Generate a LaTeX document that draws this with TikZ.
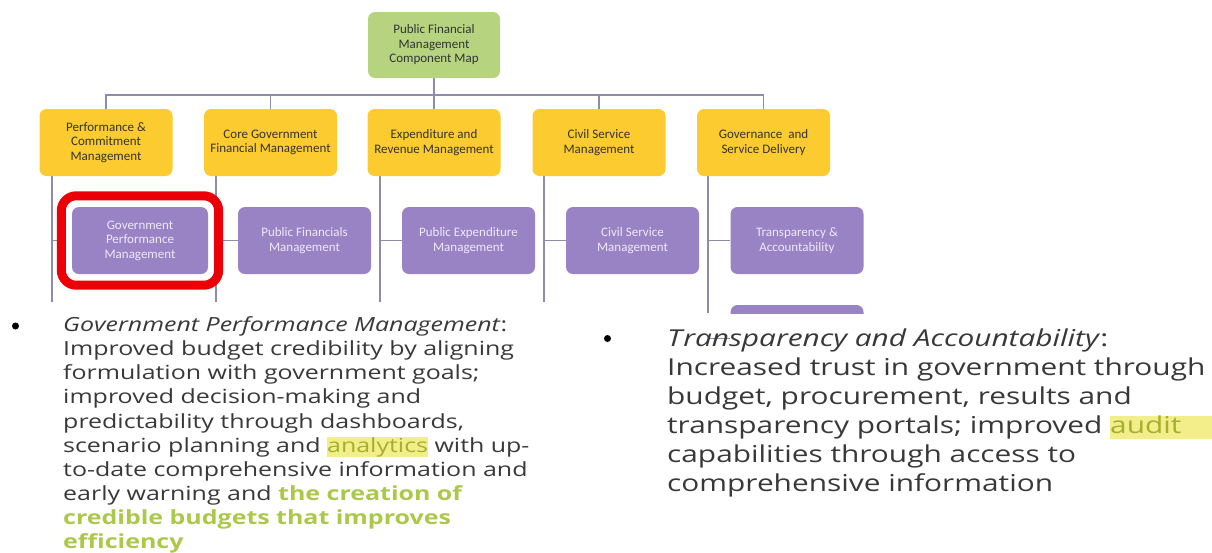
\documentclass[tikz,border=0pt]{standalone}
\usepackage{fontspec}
\usepackage{xcolor}
\usetikzlibrary{fit,backgrounds}
\newfontfamily\chartfont{Carlito}
\newfontfamily\osans[FakeStretch=1.28]{Open Sans}
\definecolor{gbox}{HTML}{B6D47F}
\definecolor{ybox}{HTML}{FCCB2F}
\definecolor{pbox}{HTML}{9A83C5}
\definecolor{ptext}{HTML}{EEE8F8}
\definecolor{lnc}{HTML}{8F8BA8}
\definecolor{redc}{HTML}{EC0008}
\definecolor{bodyc}{HTML}{383838}
\definecolor{hlbg}{HTML}{F3EE8A}
\definecolor{hltx}{HTML}{A2B12B}
\definecolor{boldg}{HTML}{ABC849}
\newcommand{\hlw}[2][0pt]{{\setlength{\fboxsep}{0pt}\colorbox{hlbg}{\rule[-0.22em]{0pt}{1.0em}\textcolor{hltx}{#2}\hspace{#1}}}}
\begin{document}
\begin{tikzpicture}[x=1pt,y=-1pt,
  chartbox/.style={rounded corners=7pt,inner sep=0pt,align=center,
    font=\chartfont\fontsize{13}{14.5}\selectfont},
  greenbox/.style={chartbox,fill=gbox,text=black!80,minimum width=132pt,minimum height=66pt},
  yellowbox/.style={chartbox,fill=ybox,text=black!80,minimum width=133pt,minimum height=67pt},
  purplebox/.style={chartbox,fill=pbox,text=ptext,minimum width=133pt,minimum height=67pt},
  conn/.style={draw=lnc,line width=1.8pt},
  redframe/.style={draw=redc,line width=9pt,rounded corners=15pt,fill=white,inner xsep=10.5pt,inner ysep=11pt},
  bodytext/.style={inner sep=0pt,align=left,text=bodyc},
  bullet/.style={circle,fill=black,inner sep=0pt,minimum size=7pt}
]
\useasboundingbox (0,0) rectangle (1212,552);

% top
\node[greenbox] (top) at (434,45) {Public Financial\\Management\\Component Map};
% second level
\node[yellowbox] (y1) at (106,142.5) {Performance \&\\Commitment\\Management};
\node[yellowbox] (y2) at (270.5,142.5) {Core Government\\Financial Management};
\node[yellowbox] (y3) at (434,142.5) {Expenditure and\\Revenue Management};
\node[yellowbox] (y4) at (599,142.5) {Civil Service\\Management};
\node[yellowbox] (y5) at (763.5,142.5) {Governance\ \ and\\Service Delivery};
% third level
\node[purplebox,minimum width=136pt] (p1) at (140,240.5) {Government\\Performance\\Management};
\node[purplebox] (p2) at (304.5,240.5) {Public Financials\\Management};
\node[purplebox] (p3) at (468.5,240.5) {Public Expenditure\\Management};
\node[purplebox] (p4) at (632.5,240.5) {Civil Service\\Management};
\node[purplebox] (p5) at (797,240.5) {Transparency \&\\Accountability};
\begin{scope}
  \clip (700,300) rectangle (900,313);
  \node[purplebox] (p6) at (797,338.5) {};
\end{scope}

\coordinate (bus) at (434,95);
\coordinate (e1) at (52,302);
\coordinate (e2) at (216,302);
\coordinate (e3) at (380,302);
\coordinate (e4) at (544,302);
\coordinate (e5) at (708,313);

\begin{pgfonlayer}{background}
  \draw[conn] (top.south) -- (bus);
  \draw[conn] (y1.north) |- (bus) -| (y5.north);
  \draw[conn] (y2.north) -- (y2.north |- bus);
  \draw[conn] (y3.north) -- (y3.north |- bus);
  \draw[conn] (y4.north) -- (y4.north |- bus);
  \foreach \i in {1,...,5}{
    \draw[conn] (y\i.south -| e\i) -- (e\i);
    \draw[conn] (e\i |- p\i.west) -- (p\i.west);
  }
  \draw[conn] (e5 |- p6.west) -- (p6.west);
  \node[redframe,fit=(p1)] (frame) {};
\end{pgfonlayer}

% bullet texts
\node[bullet] (b1) at (15.5,326) {};
\node[bodytext,anchor=north west,font=\osans\fontsize{19.5}{24.1}\selectfont] (t1) at (63,316.5)
{\textit{Government Performance Management}:\\
Improved budget credibility by aligning\\
formulation with government goals;\\
improved decision-making and\\
predictability through dashboards,\\
scenario planning and \hlw{analytics} with up-\\
to-date comprehensive information and\\
early warning and \textcolor{boldg}{\bfseries the creation of}\\
\textcolor{boldg}{\bfseries credible budgets that improves}\\
\textcolor{boldg}{\bfseries efficiency}};

\node[bullet] (b2) at (607.5,338.5) {};
\node[bodytext,anchor=north west,font=\osans\fontsize{23.3}{29}\selectfont] (t2) at (667,329)
{\textit{T\kern1.2pt ransparency and Accountability}:\\
Increased trust in government through\\
budget, procurement, results and\\
transparency portals; improved \hlw[140pt]{audit}\\
capabilities through access to\\
comprehensive information};
\end{tikzpicture}
\end{document}
